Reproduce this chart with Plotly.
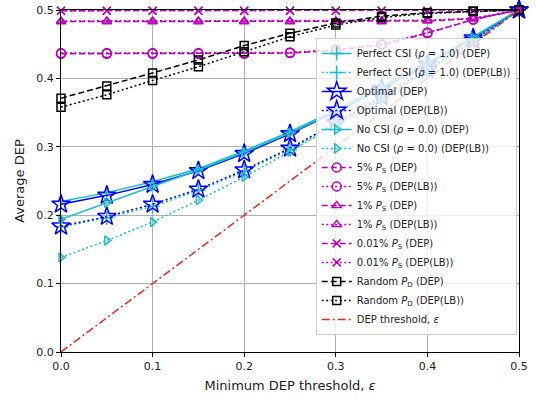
import plotly.graph_objects as go

eps = [0.0, 0.05, 0.1, 0.15, 0.2, 0.25, 0.3, 0.35, 0.4, 0.45, 0.5]

perfect_dep = [0.220, 0.233, 0.249, 0.268, 0.294, 0.322, 0.354, 0.388, 0.423, 0.461, 0.5]
perfect_lb = [0.183, 0.196, 0.213, 0.236, 0.264, 0.296, 0.333, 0.371, 0.411, 0.454, 0.5]
optimal_dep = [0.216, 0.229, 0.245, 0.265, 0.290, 0.319, 0.351, 0.385, 0.421, 0.459, 0.5]
optimal_lb = [0.184, 0.198, 0.216, 0.238, 0.266, 0.298, 0.335, 0.373, 0.413, 0.455, 0.5]
nocsi_dep = [0.194, 0.218, 0.242, 0.266, 0.292, 0.320, 0.352, 0.386, 0.422, 0.460, 0.5]
nocsi_lb = [0.138, 0.163, 0.190, 0.222, 0.256, 0.293, 0.332, 0.370, 0.410, 0.453, 0.5]
p5_dep = [0.436, 0.436, 0.436, 0.436, 0.436, 0.437, 0.441, 0.449, 0.466, 0.486, 0.5]
p5_lb = [0.437, 0.437, 0.437, 0.437, 0.437, 0.438, 0.442, 0.450, 0.467, 0.486, 0.5]
p1_dep = [0.483, 0.483, 0.483, 0.483, 0.483, 0.483, 0.483, 0.483, 0.484, 0.487, 0.5]
p1_lb = [0.484, 0.484, 0.484, 0.484, 0.484, 0.484, 0.484, 0.484, 0.485, 0.488, 0.5]
p001_dep = [0.499, 0.499, 0.499, 0.499, 0.499, 0.499, 0.499, 0.499, 0.499, 0.499, 0.5]
p001_lb = [0.499, 0.499, 0.499, 0.499, 0.499, 0.499, 0.499, 0.499, 0.499, 0.499, 0.5]
rand_dep = [0.371, 0.389, 0.408, 0.427, 0.448, 0.466, 0.481, 0.491, 0.496, 0.498, 0.5]
rand_lb = [0.358, 0.376, 0.397, 0.417, 0.439, 0.461, 0.478, 0.489, 0.495, 0.498, 0.5]
threshold = [0.0, 0.05, 0.1, 0.15, 0.2, 0.25, 0.3, 0.35, 0.4, 0.45, 0.5]

ticks = [0.0, 0.1, 0.2, 0.3, 0.4, 0.5]

C = "#17becf"
B = "#0000ff"
M = "#bf00bf"
K = "#000000"
R = "#e8281e"

DASH = "6px,3px"
DOT = "2px,2.5px"
DASHDOT = "8px,3px,2px,3px"

series = [
    ("Perfect CSI (<i>ρ</i> = 1.0) (DEP)", perfect_dep, C, "solid", "cross-thin-open", 10),
    ("Perfect CSI (<i>ρ</i> = 1.0) (DEP(LB))", perfect_lb, C, DOT, "cross-thin-open", 10),
    ("Optimal (DEP)", optimal_dep, B, "solid", "star-open", 14),
    ("Optimal (DEP(LB))", optimal_lb, B, DOT, "star-open", 14),
    ("No CSI (<i>ρ</i> = 0.0) (DEP)", nocsi_dep, C, "solid", "triangle-right-open", 8),
    ("No CSI (<i>ρ</i> = 0.0) (DEP(LB))", nocsi_lb, C, DOT, "triangle-right-open", 8),
    ("5% <i>P</i><sub>S</sub> (DEP)", p5_dep, M, DASH, "circle-open", 9),
    ("5% <i>P</i><sub>S</sub> (DEP(LB))", p5_lb, M, DOT, "circle-open", 9),
    ("1% <i>P</i><sub>S</sub> (DEP)", p1_dep, M, DASH, "triangle-up-open", 8),
    ("1% <i>P</i><sub>S</sub> (DEP(LB))", p1_lb, M, DOT, "triangle-up-open", 8),
    ("0.01% <i>P</i><sub>S</sub> (DEP)", p001_dep, M, DASH, "x-thin-open", 8),
    ("0.01% <i>P</i><sub>S</sub> (DEP(LB))", p001_lb, M, DOT, "x-thin-open", 8),
    ("Random <i>P</i><sub>D</sub> (DEP)", rand_dep, K, DASH, "square-open", 8),
    ("Random <i>P</i><sub>D</sub> (DEP(LB))", rand_lb, K, DOT, "square-open", 8),
]

fig = go.Figure()
for name, ys, col, dash, sym, sz in series:
    fig.add_trace(go.Scatter(
        x=eps, y=ys, name=name, mode="lines+markers",
        line=dict(color=col, width=1.5, dash=dash),
        marker=dict(symbol=sym, size=sz, color=col, line=dict(color=col, width=1.5)),
        cliponaxis=False,
    ))
fig.add_trace(go.Scatter(
    x=eps, y=threshold, name="DEP threshold, <i>ε</i>", mode="lines",
    line=dict(color=R, width=1.5, dash=DASHDOT),
))

axis_common = dict(
    range=[0, 0.5], tickvals=ticks, tickformat=".1f",
    showgrid=True, gridcolor="#b0b0b0", gridwidth=1,
    showline=True, linecolor="black", linewidth=1, mirror=True,
    ticks="outside", ticklen=4, tickcolor="black",
    zeroline=False, automargin=False,
    tickfont=dict(family="DejaVu Sans", size=11, color="#222"),
)

fig.update_layout(
    width=537, height=397,
    margin=dict(l=61, r=18, t=10, b=45),
    plot_bgcolor="white", paper_bgcolor="white",
    font=dict(family="DejaVu Sans", size=11, color="#222"),
    hovermode=False,
    xaxis=dict(**axis_common, title=dict(text="Minimum DEP threshold, <i>ε</i>", standoff=8,
                                         font=dict(size=13))),
    yaxis=dict(**axis_common, title=dict(text="Average DEP", standoff=8, font=dict(size=13))),
    legend=dict(
        x=0.995, xanchor="right", y=0.05, yanchor="bottom",
        bgcolor="rgba(255,255,255,0.8)", bordercolor="#cccccc", borderwidth=1,
        font=dict(family="DejaVu Sans", size=10, color="#222"),
        itemwidth=30, tracegroupgap=0,
    ),
    showlegend=True,
)

fig.write_html("out.html", config={"displayModeBar": False},
               post_script="document.body.style.margin='0';")
